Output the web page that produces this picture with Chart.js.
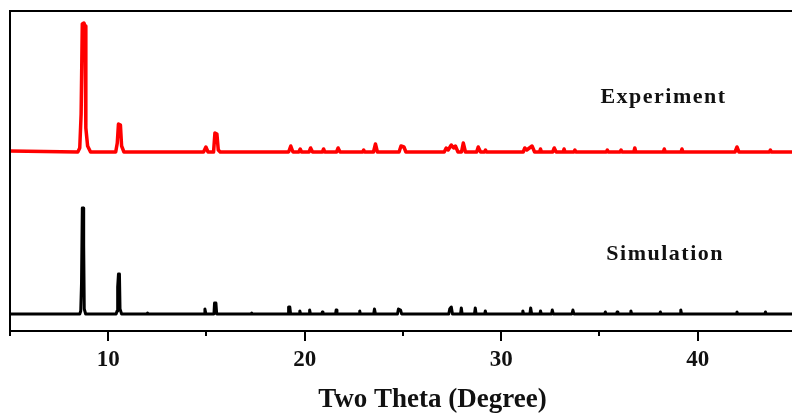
<!DOCTYPE html>
<html>
<head>
<meta charset="utf-8">
<script src="https://cdn.jsdelivr.net/npm/chart.js@4/dist/chart.umd.min.js"></script>
<style>
  html, body { margin: 0; padding: 0; background: #fff; }
  canvas { display: block; }
</style>
</head>
<body>
<canvas id="xrd" width="792" height="414"></canvas>
<script>
// measured pattern (2theta, intensity above its own baseline)
const expTheta = [5.0, 8.45, 8.55, 8.62, 8.68, 8.76, 8.82, 8.86, 8.95, 9.1,
    10.38, 10.46, 10.52, 10.62, 10.68, 10.8,
    14.85, 14.97, 15.08, 15.36, 15.43, 15.53, 15.6, 15.7,
    19.18, 19.29, 19.4, 19.7, 19.77, 19.84, 20.22, 20.3, 20.4, 20.9, 20.96, 21.02,
    21.62, 21.7, 21.8, 22.95, 23.0, 23.05, 23.5, 23.6, 23.7,
    24.8, 24.9, 25.05, 25.15, 27.1, 27.2, 27.3, 27.46, 27.58, 27.67, 27.8,
    27.98, 28.07, 28.18, 28.75, 28.83, 28.95, 29.15, 29.2, 29.25,
    31.12, 31.2, 31.3, 31.57, 31.7, 31.95, 32.0, 32.05, 32.62, 32.7, 32.8,
    33.15, 33.2, 33.25, 33.7, 33.75, 33.8, 35.35, 35.4, 35.45, 36.05, 36.1, 36.15,
    36.75, 36.8, 36.85, 38.25, 38.3, 38.35, 39.15, 39.2, 39.25,
    41.9, 42.0, 42.1, 43.65, 43.7, 43.75, 44.8];
const expCounts = [1, 0, 4, 38, 128, 129, 126, 24, 6, 0,
    0, 9, 28, 27, 6, 0,
    0, 5, 0, 0, 19, 18, 2, 0,
    0, 6, 0, 0, 3, 0, 0, 4, 0, 0, 3, 0,
    0, 4, 0, 0, 2, 0, 0, 8, 0,
    0, 6, 5, 0, 0, 4, 2, 7, 4, 6, 0,
    0, 9, 0, 0, 5, 0, 0, 2, 0,
    0, 4, 2, 6, 0, 0, 3, 0, 0, 4, 0,
    0, 3, 0, 0, 2, 0, 0, 2, 0, 0, 2, 0,
    0, 4, 0, 0, 3, 0, 0, 3, 0,
    0, 5, 0, 0, 2, 0, 0];

// simulated pattern from the single crystal structure
const simTheta = [5.0, 8.55, 8.6, 8.64, 8.68, 8.72, 8.75, 8.78, 8.85,
    10.4, 10.45, 10.48, 10.52, 10.57, 10.6, 10.68,
    11.97, 12.0, 12.03, 14.88, 14.92, 14.97, 15.38, 15.41, 15.48, 15.52,
    17.28, 17.3, 17.33, 19.15, 19.18, 19.24, 19.28, 19.72, 19.75, 19.79,
    20.22, 20.25, 20.29, 20.87, 20.9, 20.93, 21.57, 21.6, 21.64,
    22.77, 22.8, 22.83, 23.51, 23.55, 23.6, 24.72, 24.77, 24.88, 24.93,
    27.33, 27.38, 27.46, 27.52, 27.93, 27.97, 28.01, 28.64, 28.68, 28.72,
    29.16, 29.19, 29.23, 31.07, 31.1, 31.14, 31.46, 31.5, 31.55,
    31.97, 32.0, 32.04, 32.56, 32.6, 32.65, 33.6, 33.65, 33.7,
    35.26, 35.3, 35.34, 35.87, 35.9, 35.94, 36.56, 36.6, 36.64,
    38.06, 38.1, 38.14, 39.1, 39.14, 39.18, 41.97, 42.0, 42.04,
    43.42, 43.45, 43.49, 44.8];
const simCounts = [0, 0, 3, 31, 106, 106, 69, 5, 0,
    0, 3, 27, 40, 40, 5, 0,
    0, 1, 0, 0, 5, 0, 0, 11, 11, 0,
    0, 1, 0, 0, 7, 7, 0, 0, 3, 0,
    0, 4, 0, 0, 2, 0, 0, 4, 0,
    0, 3, 0, 0, 5, 0, 0, 5, 4, 0,
    0, 5, 7, 0, 0, 6, 0, 0, 6, 0,
    0, 3, 0, 0, 3, 0, 0, 6, 0,
    0, 3, 0, 0, 4, 0, 0, 4, 0,
    0, 2, 0, 0, 2, 0, 0, 3, 0,
    0, 2, 0, 0, 4, 0, 0, 2, 0,
    0, 2, 0, 0];

// vertical stacking of the two patterns
const expOffset = 179;
const simOffset = 17;

const xTicks = [5, 10, 15, 20, 25, 30, 35, 40];
const xTitle = 'Two Theta (Degree)';

const toPoints = (theta, counts, offset) =>
    theta.map((t, i) => ({ x: t, y: counts[i] + offset }));

const serif = "'Liberation Serif', 'Times New Roman', serif";

// frame, minor/major ticks, trace names and axis title
const decor = {
    id: 'decor',
    afterDraw(chart) {
        const { ctx, chartArea: a, scales } = chart;
        const xs = scales.x, ys = scales.y;
        ctx.save();
        ctx.strokeStyle = '#000';
        ctx.lineWidth = 2;
        ctx.beginPath();
        ctx.moveTo(a.left, a.bottom);
        ctx.lineTo(a.left, a.top);
        ctx.lineTo(a.right + 2, a.top);
        ctx.stroke();

        xTicks.forEach(v => {
            const px = Math.round(xs.getPixelForValue(v));
            const len = v % 10 === 0 ? 10 : 5;
            ctx.beginPath();
            ctx.moveTo(px, a.bottom);
            ctx.lineTo(px, a.bottom + len);
            ctx.stroke();
        });

        ctx.fillStyle = '#111';
        ctx.font = 'bold 22px ' + serif;
        ctx.letterSpacing = '1.5px';
        ctx.textBaseline = 'middle';
        ctx.textAlign = 'left';
        ctx.fillText('Experiment', xs.getPixelForValue(35.05), ys.getPixelForValue(234));
        ctx.fillText('Simulation', xs.getPixelForValue(35.35), ys.getPixelForValue(77));

        ctx.letterSpacing = '0px';
        ctx.font = 'bold 27px ' + serif;
        ctx.textAlign = 'center';
        ctx.fillText(xTitle, xs.getPixelForValue(26.5), 400);
        ctx.restore();
    }
};

new Chart(document.getElementById('xrd'), {
    type: 'line',
    data: {
        datasets: [
            {
                label: 'Experiment',
                data: toPoints(expTheta, expCounts, expOffset),
                borderColor: '#ff0000',
                borderWidth: 3.5,
                borderJoinStyle: 'round',
                borderCapStyle: 'round',
                pointRadius: 0,
                tension: 0
            },
            {
                label: 'Simulation',
                data: toPoints(simTheta, simCounts, simOffset),
                borderColor: '#000000',
                borderWidth: 3,
                borderJoinStyle: 'round',
                borderCapStyle: 'round',
                pointRadius: 0,
                tension: 0
            }
        ]
    },
    options: {
        responsive: false,
        animation: false,
        layout: { padding: { left: 10, right: 0, top: 11, bottom: 0 } },
        plugins: {
            legend: { display: false },
            tooltip: { enabled: false }
        },
        scales: {
            x: {
                type: 'linear',
                min: 5,
                max: 44.8,
                afterFit(scale) { scale.height = 83; },
                afterBuildTicks(scale) {
                    scale.ticks = xTicks.map(v => ({ value: v }));
                },
                border: { display: true, color: '#000', width: 2 },
                grid: { drawOnChartArea: false, color: 'transparent', tickLength: 10 },
                ticks: {
                    color: '#111',
                    padding: 5,
                    maxRotation: 0,
                    font: { family: serif, size: 23, weight: 'bold' },
                    callback: v => (v % 10 === 0 ? String(v) : '')
                }
            },
            y: {
                display: false,
                min: 0,
                max: 320
            }
        }
    },
    plugins: [decor]
});
</script>
</body>
</html>
